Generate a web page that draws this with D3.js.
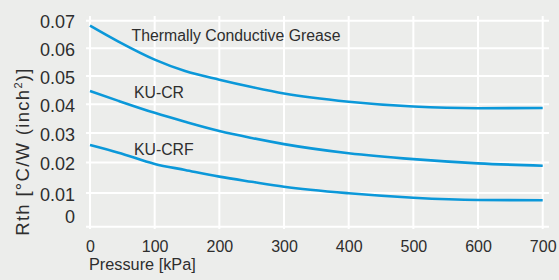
<!DOCTYPE html>
<html>
<head>
<meta charset="utf-8">
<script src="https://cdn.jsdelivr.net/npm/d3@7"></script>
<style>
  body { margin: 0; background: #ecedeb; }
  svg { display: block; font-family: "Liberation Sans", Arial, Helvetica, sans-serif; }
</style>
</head>
<body>
<div class="chart"></div>
<script>
// pressure samples (kPa)
const pressure = [0, 44, 100, 147, 200, 250, 300, 400, 500, 600, 700];
// thermal resistance for each series
const grease = [0.0682, 0.0624, 0.0559, 0.0518, 0.0487, 0.0461, 0.0438, 0.0409, 0.0392, 0.0386, 0.0387];
const kuCr   = [0.0447, 0.0412, 0.0370, 0.0339, 0.0307, 0.0283, 0.0262, 0.0231, 0.0211, 0.0197, 0.0189];
const kuCrf  = [0.0259, 0.0233, 0.0195, 0.0175, 0.0153, 0.0136, 0.0120, 0.0099, 0.0085, 0.0078, 0.0077];
const seriesNames = ['Thermally Conductive Grease', 'KU-CR', 'KU-CRF'];

const xTicks = [0, 100, 200, 300, 400, 500, 600, 700];
const yTicks = [0, 0.01, 0.02, 0.03, 0.04, 0.05, 0.06, 0.07];
const yTickLabels = ['0', '0.01', '0.02', '0.03', '0.04', '0.05', '0.06', '0.07'];

const width = 559, height = 280;
const lineColor = '#0b98d9';
const textColor = '#2e2e2e';

const svg = d3.select('.chart')
  .append('svg')
    .attr('width', width)
    .attr('height', height);

svg.append('rect')
  .attr('width', width)
  .attr('height', height)
  .attr('fill', '#ecedeb');

const x = d3.scaleLinear()
  .domain([0, 700])
  .range([90, 542.7]);

// the grid on the original gets a bit wider toward zero, a power scale fits it
const y = d3.scalePow()
  .exponent(0.93)
  .domain([0, 0.07])
  .range([226.7, 20.7]);

// grid
svg.append('g')
  .selectAll('line')
  .data(yTicks)
  .join('line')
    .attr('x1', 86)
    .attr('x2', 549)
    .attr('y1', d => y(d))
    .attr('y2', d => y(d))
    .attr('stroke', '#fff')
    .attr('stroke-width', 2);

svg.append('g')
  .selectAll('line')
  .data(xTicks)
  .join('line')
    .attr('x1', d => x(d))
    .attr('x2', d => x(d))
    .attr('y1', 16)
    .attr('y2', 229)
    .attr('stroke', '#fff')
    .attr('stroke-width', 2);

// axes (labels only)
const xAxis = d3.axisBottom(x)
  .tickValues(xTicks)
  .tickSize(0)
  .tickPadding(0);

const xAxisGroup = svg.append('g')
  .attr('transform', 'translate(0, 251.5)')
  .call(xAxis);
xAxisGroup.select('.domain').remove();
xAxisGroup.selectAll('text')
  .attr('font-size', 16)
  .attr('font-family', null)
  .attr('fill', textColor)
  .attr('dy', 0);

const yAxis = d3.axisLeft(y)
  .tickValues(yTicks)
  .tickSize(0)
  .tickPadding(15)
  .tickFormat((d, i) => yTickLabels[i]);

const yAxisGroup = svg.append('g')
  .attr('transform', 'translate(90, 0)')
  .call(yAxis);
yAxisGroup.select('.domain').remove();
yAxisGroup.selectAll('text')
  .attr('font-size', 18)
  .attr('font-family', null)
  .attr('fill', textColor)
  .attr('dy', (d) => d === 0 ? '-0.22em' : '0.4em');

// lines
const line = d3.line()
  .x((d, i) => x(pressure[i]))
  .y(d => y(d))
  .curve(d3.curveMonotoneX);

svg.append('g')
  .selectAll('path')
  .data([grease, kuCr, kuCrf])
  .join('path')
    .attr('d', line)
    .attr('fill', 'none')
    .attr('stroke', lineColor)
    .attr('stroke-width', 2.6);

// series labels
const labelPos = [[131.5, 40.7], [134, 98.3], [134, 155]];
svg.append('g')
  .selectAll('text')
  .data(seriesNames)
  .join('text')
    .attr('x', (d, i) => labelPos[i][0])
    .attr('y', (d, i) => labelPos[i][1])
    .attr('font-size', 15.8)
    .attr('fill', textColor)
    .text(d => d);

// axis titles
svg.append('text')
  .attr('x', 89)
  .attr('y', 270)
  .attr('font-size', 16.3)
  .attr('fill', textColor)
  .text('Pressure [kPa]');

const yTitle = svg.append('text')
  .attr('transform', 'translate(28.5, 151.5) rotate(-90)')
  .attr('text-anchor', 'middle')
  .attr('font-size', 18.5)
  .attr('letter-spacing', 1.3)
  .attr('fill', textColor);
yTitle.append('tspan').text('Rth [°C/W (inch');
yTitle.append('tspan').attr('font-size', 11).attr('dy', '-0.6em').text('2');
yTitle.append('tspan').attr('dy', '0.38em').text(')]');
</script>
</body>
</html>
